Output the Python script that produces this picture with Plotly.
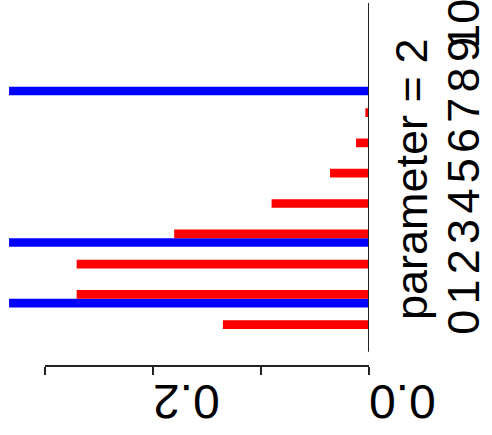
import plotly.graph_objects as go

categories = list(range(11))
category_labels = ["0", "1", "2", "3", "4", "5", "6", "7", "8", "9", "10\u2009"]
red_values = [0.1353, 0.2707, 0.2707, 0.1804, 0.0902, 0.0361, 0.0120, 0.0034, 0.0009, 0.0002, 0.00004]
blue_categories = [1, 3, 8]
blue_values = [0.3333, 0.3333, 0.3333]
x_tick_vals = [0.0, 0.1, 0.2, 0.3]
x_tick_text = ["0.0", "", "0.2", ""]
title_text = "parameter = 2"

FONT = "Liberation Sans, Arial, Helvetica, sans-serif"

fig = go.Figure()
fig.add_trace(go.Bar(y=blue_categories, x=blue_values, orientation="h",
                     marker=dict(color="#0000FF", line=dict(width=0)), showlegend=False))
fig.add_trace(go.Bar(y=categories, x=red_values, orientation="h",
                     marker=dict(color="#FF0000", line=dict(width=0)), showlegend=False))

fig.update_layout(
    width=492, height=435,
    margin=dict(l=0, r=123, t=3, b=69, autoexpand=False),
    paper_bgcolor="white", plot_bgcolor="white",
    barmode="group", bargap=0.426, bargroupgap=0,
    font=dict(family=FONT, color="black"),
    xaxis=dict(range=[0.3417, 0], showgrid=False, zeroline=False, showline=False,
               automargin=False,
               tickmode="array", tickvals=x_tick_vals, ticktext=x_tick_text,
               ticks="outside", ticklen=8, tickwidth=2, tickcolor="#222",
               tickangle=180, tickfont=dict(size=48, family=FONT),
               ticklabeloverflow="allow"),
    yaxis=dict(range=[-1.22, 10.76], side="right", showgrid=False, zeroline=False,
               showline=False, automargin=False, tickmode="array", tickvals=categories,
               ticktext=category_labels, ticks="",
               tickangle=-90, tickfont=dict(size=45, family=FONT),
               ticklabelstandoff=64, ticklabeloverflow="allow"),
)

fig.add_shape(type="line", xref="x", yref="y", x0=0, x1=0, y0=-0.75, y1=10.76,
              line=dict(color="#222", width=2))
fig.add_shape(type="line", xref="x", yref="paper", x0=0, x1=0.3, y0=0, y1=0,
              line=dict(color="#222", width=2))

fig.add_annotation(text=title_text, textangle=-90, xref="paper", yref="paper",
                   x=(412 - 0) / 369, y=1 - (180 - 3) / 363, xanchor="center", yanchor="middle",
                   showarrow=False, font=dict(size=45, family=FONT, color="black"))

fig.write_html("out.html")
